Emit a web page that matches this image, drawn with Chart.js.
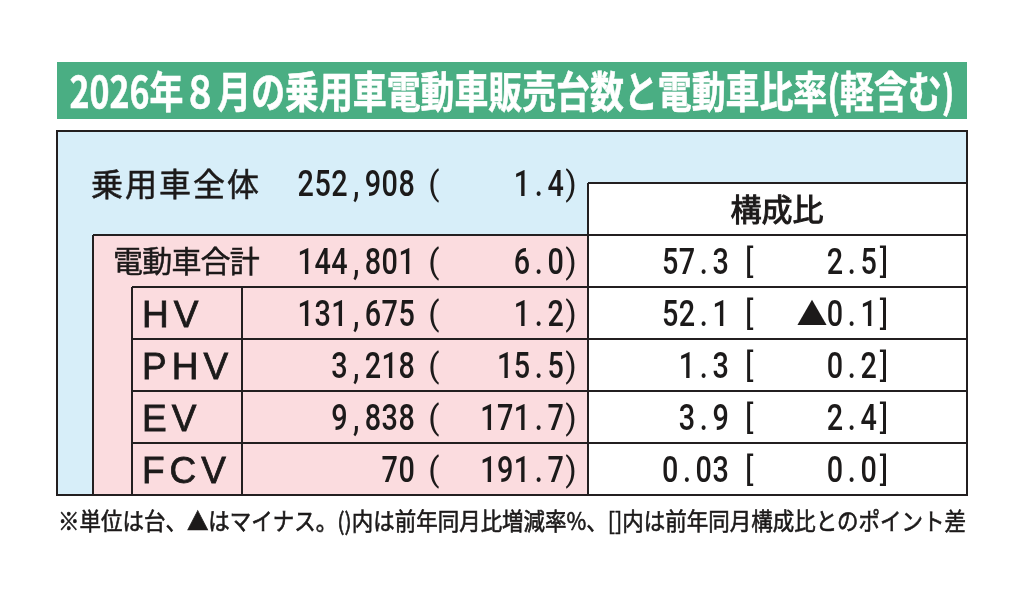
<!DOCTYPE html>
<html>
<head>
<meta charset="utf-8">
<script src="https://cdn.jsdelivr.net/npm/chart.js@4"></script>
<style>
  html, body { margin: 0; padding: 0; background: #fff; }
  canvas { display: block; }
</style>
</head>
<body>
<canvas id="chart" width="1024" height="592"></canvas>
<script>
// data
const titleText = "2026年８月の乗用車電動車販売台数と電動車比率(軽含む)";
const noteText = "※単位は台、▲はマイナス。()内は前年同月比増減率%、[]内は前年同月構成比とのポイント差";
const shareHeader = "構成比";

const rowLabels = ["乗用車全体", "電動車合計", "HV", "PHV", "EV", "FCV"];
const units = [252908, 144801, 131675, 3218, 9838, 70];
const yoyPct = [1.4, 6.0, 1.2, 15.5, 171.7, 191.7];
const sharePct = [null, 57.3, 52.1, 1.3, 3.9, 0.03];
const shareDiff = [null, 2.5, -0.1, 0.2, 2.4, 0.0];

// layout (x in px from table left edge, y in rows)
const col = {
  pinkLeft: 36, labelLeft: 75, labelRight: 185, shareLeft: 531, right: 910,
  topLabel: 34, totalLabel: 56, subLabel: 85,
  unitsRight: 358, openParen: 377, yoyRight: 507, closeParen: 514,
  shareRight: 672, openBr: 692, diffRight: 820, closeBr: 827, header: 720
};
const cell = 16.8;

const blue = "#d7eef9";
const pink = "#fbdcdf";
const green = "#4aae83";
const ink = "#1c1a1a";
const lineCol = "#231f20";

const jp = '"Noto Sans CJK JP", "Noto Sans", sans-serif';

const fmtUnits = (v) => v.toLocaleString("en-US");
const fmtPct = (v) => (Math.abs(v) < 0.1 && v !== 0 ? v.toFixed(2) : v.toFixed(1));
const fmtDiff = (v) => (v < 0 ? "▲" : "") + Math.abs(v).toFixed(1);

// fill plus a thin stroke to get a heavier weight
const paint = (c, ch, x, y, sw) => {
  c.fillText(ch, x, y);
  if (sw) {
    c.lineWidth = sw;
    c.strokeText(ch, x, y);
  }
};

// monospace-cell digits, right aligned, horizontally condensed
const drawNum = (c, str, right, cy) => {
  c.save();
  c.font = '500 36px Roboto';
  c.textAlign = "center";
  c.textBaseline = "alphabetic";
  let x = right;
  for (let i = str.length - 1; i >= 0; i--) {
    const ch = str[i];
    if (ch === "▲") {
      c.font = '400 31px ' + jp;
      c.textAlign = "right";
      c.textBaseline = "middle";
      c.fillText(ch, x + 1, cy);
      break;
    }
    c.save();
    c.translate(x - cell / 2, cy + 13);
    c.scale(0.8, 1);
    c.fillText(ch, 0, 0);
    c.restore();
    x -= cell;
  }
  c.restore();
};

const drawMark = (c, ch, cx, cy, size) => {
  c.save();
  c.font = '400 ' + size + 'px Roboto';
  c.textAlign = "center";
  c.textBaseline = "alphabetic";
  c.fillText(ch, cx, cy + 12);
  c.restore();
};

const drawSpaced = (c, text, x, cy, pitch, sw) => {
  for (let i = 0; i < text.length; i++) {
    paint(c, text[i], x + i * pitch, cy, sw);
  }
};

const drawLatin = (c, text, x, cy, gap, sw) => {
  for (const ch of text) {
    paint(c, ch, x, cy, sw);
    x += c.measureText(ch).width + gap;
  }
};

const drawFit = (c, text, cx, cy, width, sw) => {
  const w = c.measureText(text).width;
  c.save();
  c.translate(cx, cy);
  c.scale(width / w, 1);
  c.textAlign = "center";
  paint(c, text, 0, 0, sw);
  c.restore();
};

const tablePlugin = {
  id: "tablePlugin",
  afterDraw(chart) {
    const c = chart.ctx;
    const xs = chart.scales.x;
    const ys = chart.scales.y;
    const X = (u) => xs.getPixelForValue(u);
    const Y = (v) => ys.getPixelForValue(v);
    const area = chart.chartArea;

    // title bar
    c.save();
    c.fillStyle = green;
    c.fillRect(area.left, 62, area.right - area.left, 57);
    c.fillStyle = "#fff";
    c.strokeStyle = "#fff";
    c.font = '700 43px ' + jp;
    c.textBaseline = "middle";
    drawFit(c, titleText, (area.left + area.right) / 2, 92, 885, 0.6);

    // backgrounds
    c.fillStyle = blue;
    c.fillRect(area.left, area.top, area.right - area.left, area.bottom - area.top);
    c.fillStyle = pink;
    c.fillRect(X(col.pinkLeft), Y(2), X(col.shareLeft) - X(col.pinkLeft), Y(7) - Y(2));
    c.fillStyle = "#fff";
    c.fillRect(X(col.shareLeft), Y(1), X(col.right) - X(col.shareLeft), Y(7) - Y(1));

    // lines
    c.strokeStyle = lineCol;
    c.lineWidth = 2;
    const seg = (x1, y1, x2, y2) => {
      c.beginPath();
      c.moveTo(x1, y1);
      c.lineTo(x2, y2);
      c.stroke();
    };
    seg(X(col.shareLeft), Y(1), X(col.right), Y(1));
    seg(X(col.shareLeft), Y(1), X(col.shareLeft), Y(7));
    seg(X(col.pinkLeft), Y(2), X(col.right), Y(2));
    seg(X(col.pinkLeft), Y(2), X(col.pinkLeft), Y(7));
    for (let r = 3; r <= 6; r++) seg(X(col.labelLeft), Y(r), X(col.right), Y(r));
    seg(X(col.labelLeft), Y(3), X(col.labelLeft), Y(7));
    seg(X(col.labelRight), Y(3), X(col.labelRight), Y(7));
    c.strokeRect(area.left, area.top, area.right - area.left, area.bottom - area.top);

    // texts
    c.fillStyle = ink;
    c.strokeStyle = ink;
    c.textBaseline = "middle";
    c.textAlign = "left";

    rowLabels.forEach((label, i) => {
      const cy = i === 0 ? Y(1) : Y(i + 1.5);
      if (i === 0) {
        c.font = '400 32px ' + jp;
        drawSpaced(c, label, X(col.topLabel), cy + 1, 34, 0.5);
      } else if (i === 1) {
        c.font = '400 30px ' + jp;
        drawSpaced(c, label, X(col.totalLabel), cy, 29.2, 0.5);
      } else {
        c.font = '400 37px "Liberation Sans", Arial, sans-serif';
        c.textBaseline = "alphabetic";
        drawLatin(c, label, X(col.subLabel), cy + 13.5, 5, 0.8);
        c.textBaseline = "middle";
      }
      drawNum(c, fmtUnits(units[i]), X(col.unitsRight), cy);
      drawMark(c, "(", X(col.openParen), cy, 33);
      drawNum(c, fmtPct(yoyPct[i]), X(col.yoyRight), cy);
      drawMark(c, ")", X(col.closeParen), cy, 33);
      if (sharePct[i] !== null) {
        drawNum(c, fmtPct(sharePct[i]), X(col.shareRight), cy);
        drawMark(c, "[", X(col.openBr), cy, 33);
        drawNum(c, fmtDiff(shareDiff[i]), X(col.diffRight), cy);
        drawMark(c, "]", X(col.closeBr), cy, 33);
      }
    });

    // header
    c.font = '400 31px ' + jp;
    c.textAlign = "center";
    c.textBaseline = "middle";
    paint(c, shareHeader, X(col.header), Y(1.5), 1.0);

    // footnote
    c.font = '400 24px ' + jp;
    drawFit(c, noteText, (58 + 966) / 2, 521, 908, 0.6);
    c.restore();
  }
};

const ctx = document.getElementById("chart").getContext("2d");
const myChart = new Chart(ctx, {
  type: "scatter",
  data: { datasets: [] },
  options: {
    responsive: false,
    animation: false,
    layout: { padding: { left: 57, right: 57, top: 131, bottom: 97 } },
    scales: {
      x: { type: "linear", min: 0, max: 910, display: false },
      y: { type: "linear", min: 0, max: 7, reverse: true, display: false }
    },
    plugins: { legend: { display: false }, tooltip: { enabled: false } }
  },
  plugins: [tablePlugin]
});
</script>
</body>
</html>
